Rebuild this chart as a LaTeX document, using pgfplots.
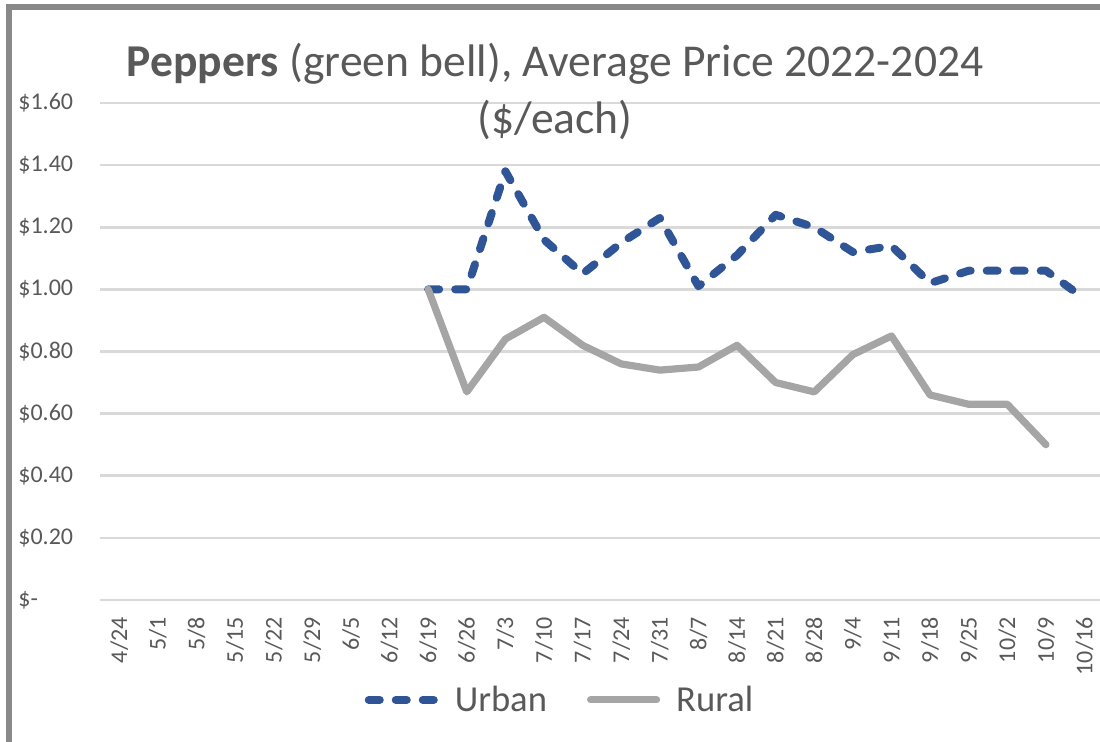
\documentclass[border=0pt]{standalone}
\usepackage{fontspec}
\setmainfont{Carlito}
\usepackage{pgfplots}
\pgfplotsset{compat=1.18}
\definecolor{urban}{HTML}{2F5597}
\definecolor{rural}{HTML}{A5A5A5}
\definecolor{txt}{HTML}{595959}
\definecolor{gridc}{HTML}{D9D9D9}
\definecolor{framec}{HTML}{898989}
\begin{document}
\begin{tikzpicture}
\path[use as bounding box] (-50pt,-71pt) rectangle (500pt,300pt);
\draw[framec, line width=3pt] (-45.25pt,-72pt) -- (-45.25pt,296.25pt) -- (501pt,296.25pt);
\begin{axis}[
  at={(0,0)}, anchor=south west,
  scale only axis, width=500pt, height=248.5pt,
  xmin=-0.5, xmax=25.4, ymin=0, ymax=1.6,
  axis line style={draw=none},
  tick style={draw=none},
  ymajorgrids, major grid style={gridc, line width=1.3pt},
  ytick={0,0.2,0.4,0.6,0.8,1.0,1.2,1.4,1.6},
  yticklabels={\$-,\$0.20,\$0.40,\$0.60,\$0.80,\$1.00,\$1.20,\$1.40,\$1.60},
  yticklabel style={anchor=west, inner sep=0pt, xshift=-41pt, font=\fontsize{12}{14}\selectfont, text=txt},
  xtick={0,...,25},
  xticklabels={4/24,5/1,5/8,5/15,5/22,5/29,6/5,6/12,6/19,6/26,7/3,7/10,7/17,7/24,7/31,8/7,8/14,8/21,8/28,9/4,9/11,9/18,9/25,10/2,10/9,10/16},
  xticklabel style={yshift=-8.5pt, rotate=90, anchor=east, inner sep=0pt, font=\fontsize{12}{14}\selectfont, text=txt},
  legend columns=2,
  legend style={at={(0.467,-0.201)}, anchor=center, draw=none, fill=none,
    font=\fontsize{18.3}{21}\selectfont, text=txt,
    nodes={inner xsep=8pt},
    /tikz/every even column/.append style={column sep=12pt}},
  legend image code/.code={\draw[#1] (0pt,0pt) -- (33pt,0pt);},
]
\addplot[urban, line width=4pt, line cap=round, line join=round, dash pattern=on 5.5pt off 8pt] coordinates {
(8,1.00) (9,1.00) (10,1.38) (11,1.16) (12,1.05) (13,1.15) (14,1.23) (15,1.01) (16,1.11)
(17,1.24) (18,1.20) (19,1.12) (20,1.14) (21,1.02) (22,1.06) (23,1.06) (24,1.06) (25,0.97)};
\addlegendentry{Urban}
\addplot[rural, line width=3.6pt, line cap=round, line join=round] coordinates {
(8,1.00) (9,0.67) (10,0.84) (11,0.91) (12,0.82) (13,0.76) (14,0.74) (15,0.75) (16,0.82)
(17,0.70) (18,0.67) (19,0.79) (20,0.85) (21,0.66) (22,0.63) (23,0.63) (24,0.50)};
\addlegendentry{Rural}
\end{axis}
\node[anchor=base, text=txt, font=\fontsize{22.8}{27}\selectfont, inner sep=0pt] at (227.5pt,261.5pt) {\textbf{Peppers} (green bell), Average Price 2022-2024};
\node[anchor=base, text=txt, font=\fontsize{22.8}{27}\selectfont, inner sep=0pt] at (227.5pt,233pt) {(\$/each)};
\end{tikzpicture}
\end{document}
